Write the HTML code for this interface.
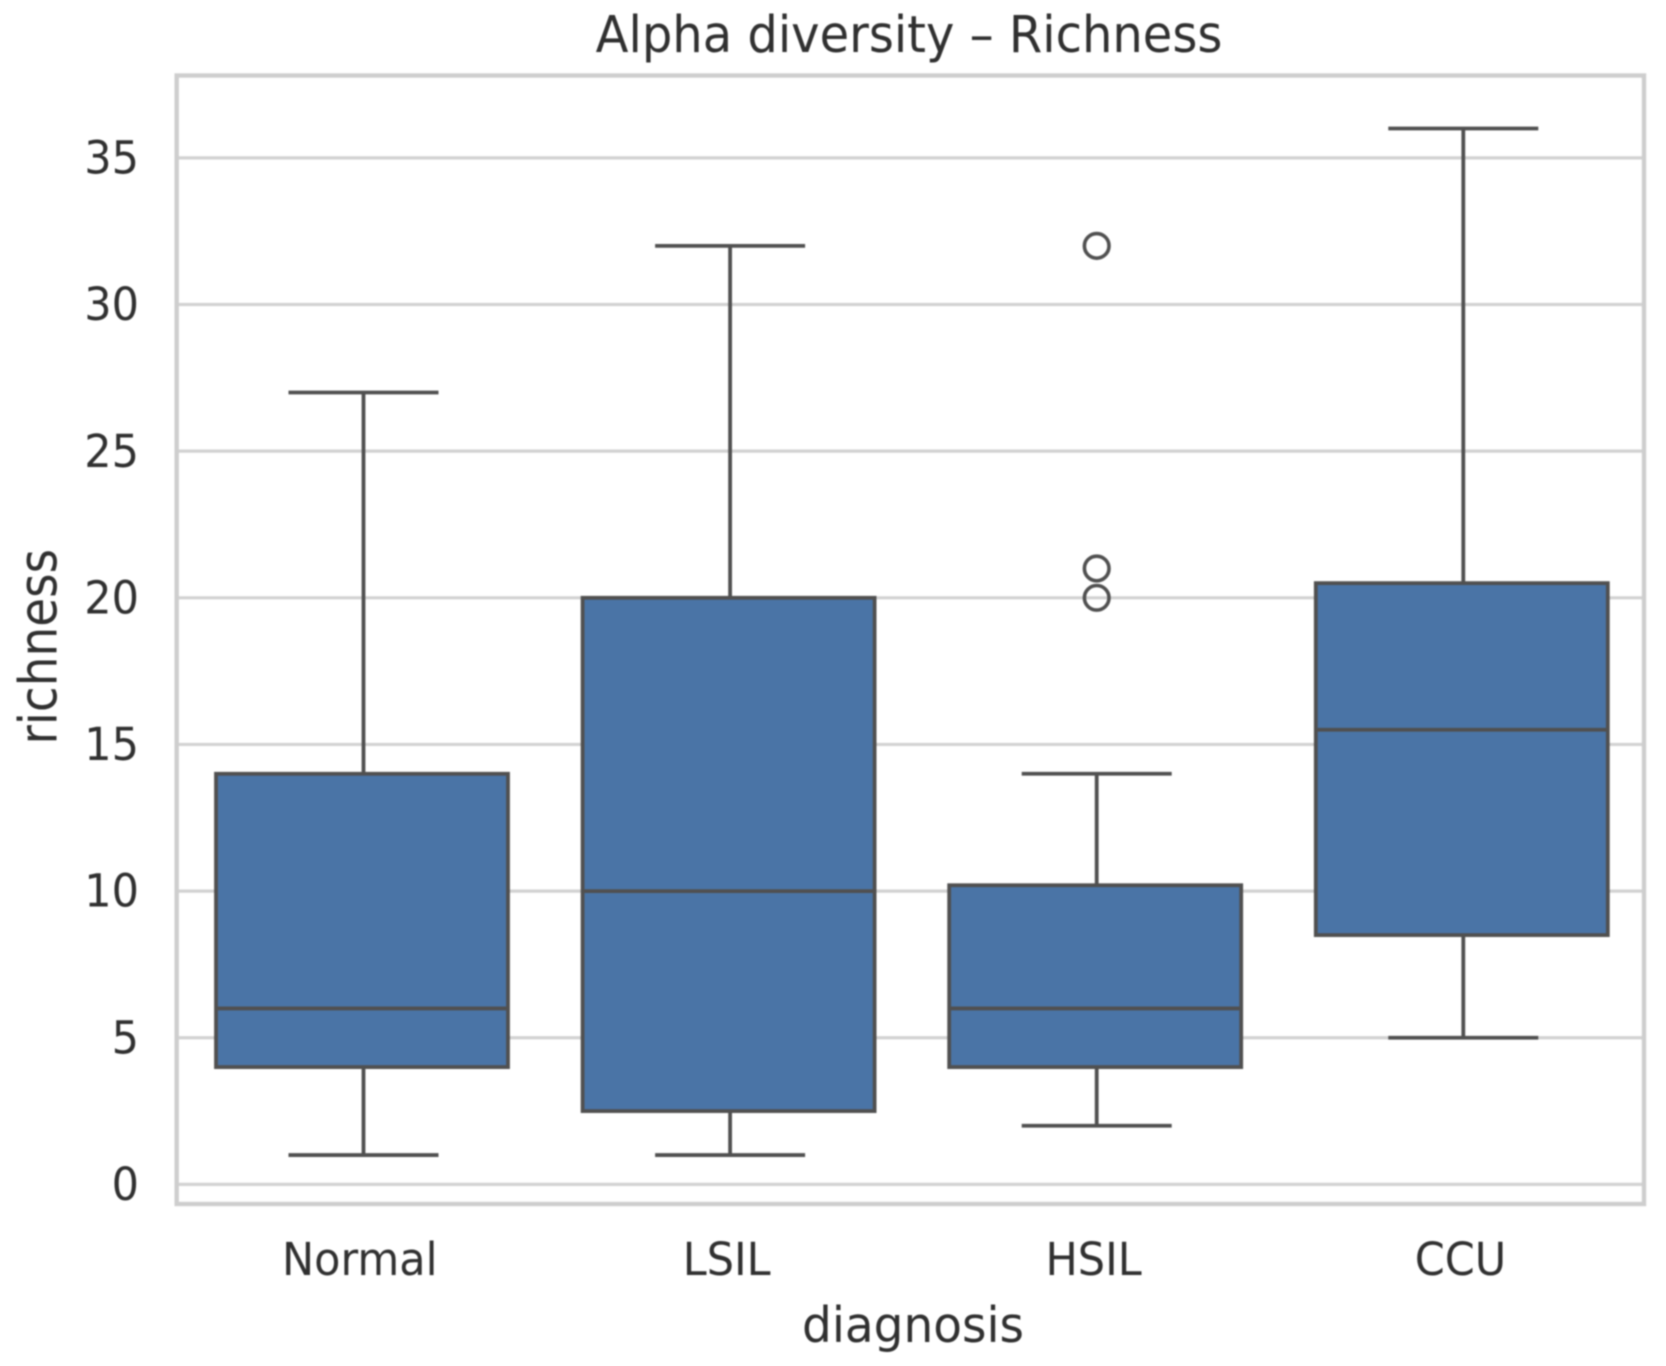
<!DOCTYPE html>
<html lang="en">
<head>
<meta charset="utf-8">
<title>Alpha diversity – Richness</title>
<style>
  html, body { margin: 0; padding: 0; background: #ffffff; }
  #chart { display: block; width: 1666px; height: 1366px; filter: blur(0.8px); }
  text { font-family: "DejaVu Sans", "Liberation Sans", sans-serif; fill: #303030; }
</style>
</head>
<body>
<svg id="chart" xmlns="http://www.w3.org/2000/svg" width="1666" height="1366" viewBox="0 0 1666 1366">
  <rect x="0" y="0" width="1666" height="1366" fill="#ffffff"></rect>
  <g id="grid"></g>
  <rect x="176.7" y="75.5" width="1467.3" height="1128.5" fill="none" stroke="#cecece" stroke-width="4.4"></rect>
  <g id="boxes"></g>
  <g id="yticks"></g>
  <g id="xticks"></g>
  <text transform="translate(909 52) scale(1 1.06)" font-size="48" text-anchor="middle">Alpha diversity – Richness</text>
  <text transform="translate(913 1342) scale(1 1.05)" font-size="47" text-anchor="middle">diagnosis</text>
  <text transform="translate(56.7 646.7) rotate(-90) scale(1 1.12)" font-size="47" text-anchor="middle">richness</text>
</svg>
<script>
const categories = ['Normal', 'LSIL', 'HSIL', 'CCU'];
const whiskerLow = [1, 1, 2, 5];
const q1 = [4, 2.5, 4, 8.5];
const median = [6, 10, 6, 15.5];
const q3 = [14, 20, 10.2, 20.5];
const whiskerHigh = [27, 32, 14, 36];
const outliers = [[], [], [32, 21, 20], []];
const yTickValues = [0, 5, 10, 15, 20, 25, 30, 35];

const NS = 'http://www.w3.org/2000/svg';
const LINE = '#505050';
const FILL = '#4a74a6';

function yScale(v) { return 1184.4 - v * 29.33; }
function xScale(i) { return 363.5 + i * 366.6; }
function labelX(i) { return 359.8 + i * 366.9; }

function make(parent, tag, attrs) {
  const el = document.createElementNS(NS, tag);
  for (const k in attrs) el.setAttribute(k, attrs[k]);
  parent.appendChild(el);
  return el;
}

const gridG = document.getElementById('grid');
const yTickG = document.getElementById('yticks');
yTickValues.forEach(function (v) {
  const line = make(gridG, 'line', { x1: 176.7, x2: 1644, y1: yScale(v), y2: yScale(v), stroke: '#d2d2d2', 'stroke-width': 3.2 });
  
  
  const label = make(yTickG, 'text', { transform: 'translate(139 ' + (yScale(v) + 15.6) + ') scale(1 1.06)', 'font-size': 43, 'text-anchor': 'end' });
  label.textContent = String(v);
  
  
});

const boxesG = document.getElementById('boxes');
const xTickG = document.getElementById('xticks');
const BOX_HALF = 146;
const CAP_HALF = 75;
categories.forEach(function (name, i) {
  const key = name.toLowerCase();
  const cx = xScale(i);
  const group = make(boxesG, 'g', {});
  
  

  const lowStem = make(group, 'line', { x1: cx, x2: cx, y1: yScale(q1[i]), y2: yScale(whiskerLow[i]), stroke: LINE, 'stroke-width': 3.8 });
  
  

  const highStem = make(group, 'line', { x1: cx, x2: cx, y1: yScale(q3[i]), y2: yScale(whiskerHigh[i]), stroke: LINE, 'stroke-width': 3.8 });
  
  

  const lowCap = make(group, 'line', { x1: cx - CAP_HALF, x2: cx + CAP_HALF, y1: yScale(whiskerLow[i]), y2: yScale(whiskerLow[i]), stroke: LINE, 'stroke-width': 3.8 });
  
  

  const highCap = make(group, 'line', { x1: cx - CAP_HALF, x2: cx + CAP_HALF, y1: yScale(whiskerHigh[i]), y2: yScale(whiskerHigh[i]), stroke: LINE, 'stroke-width': 3.8 });
  
  

  const box = make(group, 'rect', { x: cx - BOX_HALF - 1.5, y: yScale(q3[i]), width: BOX_HALF * 2, height: yScale(q1[i]) - yScale(q3[i]), fill: FILL, stroke: LINE, 'stroke-width': 3.8 });
  
  

  const med = make(group, 'line', { x1: cx - BOX_HALF - 1.5, x2: cx + BOX_HALF - 1.5, y1: yScale(median[i]), y2: yScale(median[i]), stroke: LINE, 'stroke-width': 3.8 });
  
  

  outliers[i].forEach(function (v) {
    const dot = make(group, 'circle', { cx: cx, cy: yScale(v), r: 12.3, fill: 'none', stroke: LINE, 'stroke-width': 3.6 });
    
    
  });

  const label = make(xTickG, 'text', { transform: 'translate(' + labelX(i) + ' 1275) scale(1 1.06)', 'font-size': 43, 'text-anchor': 'middle' });
  label.textContent = name;
  
  
});
</script>
</body>
</html>
